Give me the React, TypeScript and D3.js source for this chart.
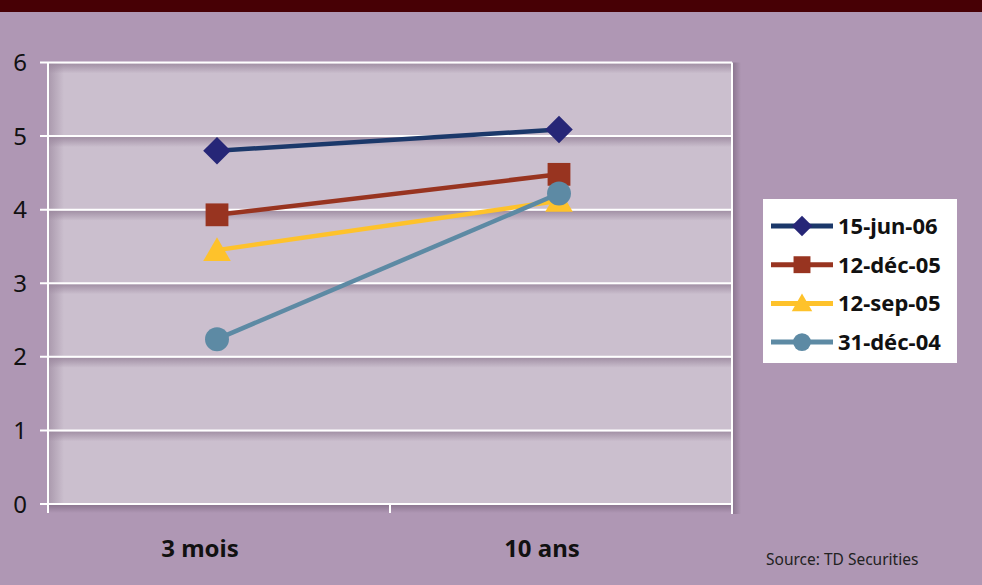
import React from "react";
import * as d3 from "d3";

const categories = ["3 mois", "10 ans"];
const seriesNames = ["15-jun-06", "12-déc-05", "12-sep-05", "31-déc-04"];
const s15jun06 = [4.8, 5.09];
const s12dec05 = [3.93, 4.48];
const s12sep05 = [3.45, 4.12];
const s31dec04 = [2.24, 4.22];
const yTicks = [0, 1, 2, 3, 4, 5, 6];
const sourceText = "Source: TD Securities";

const lineColors = ["#1B386A", "#983420", "#FEC22B", "#5D8AA4"];
const markerColors = ["#262677", "#983420", "#FEC22B", "#5D8AA4"];
const markerTypes = [d3.symbolSquare, d3.symbolSquare, d3.symbolTriangle, d3.symbolCircle];
const markerSizes = [380, 520, 330, 450];

const W = 982, H = 585;
const left = 48, right = 732, top = 62.5, bottom = 504;
const FONT = "'Noto Sans', 'Open Sans', sans-serif";

export default function App() {
  const allSeries = [s15jun06, s12dec05, s12sep05, s31dec04];
  const x = d3.scaleBand<string>().domain(categories).range([left, right]);
  const y = d3.scaleLinear().domain([0, 6]).range([bottom, top]);
  const cx = (c: string) => (x(c) as number) + x.bandwidth() / 2 - 2;
  const line = d3.line<number>().x((_, i) => cx(categories[i])).y((v) => y(v));
  const sym = (i: number, scale = 1) => d3.symbol().type(markerTypes[i]).size(markerSizes[i] * scale)() as string;
  const rot = (i: number) => (i === 0 ? " rotate(45)" : "");

  const legendX = 763, legendY = 199, legendW = 194, legendH = 164;
  const legendRowY = (i: number) => 226 + i * 38.7;

  return (
    <svg width={W} height={H} style={{ position: "absolute", left: 0, top: 0, display: "block" }}>
      <defs>
        <linearGradient id="gshadow" x1="0" y1="0" x2="0" y2="1">
          <stop offset="0" stopColor="#9a879d" stopOpacity="0.85" />
          <stop offset="1" stopColor="#9a879d" stopOpacity="0" />
        </linearGradient>
        <linearGradient id="lshadow" x1="0" y1="0" x2="1" y2="0">
          <stop offset="0" stopColor="#9a879d" stopOpacity="0.7" />
          <stop offset="1" stopColor="#9a879d" stopOpacity="0" />
        </linearGradient>
        <linearGradient id="rshadow" x1="0" y1="0" x2="1" y2="0">
          <stop offset="0" stopColor="#7f6a83" stopOpacity="0.8" />
          <stop offset="1" stopColor="#7f6a83" stopOpacity="0" />
        </linearGradient>
        <linearGradient id="bshadow" x1="0" y1="0" x2="0" y2="1">
          <stop offset="0" stopColor="#7f6a83" stopOpacity="0.8" />
          <stop offset="1" stopColor="#7f6a83" stopOpacity="0" />
        </linearGradient>
      </defs>
      <rect x={0} y={0} width={W} height={H} fill="#AF97B4" />
      <rect x={0} y={0} width={W} height={12} fill="#470005" />

      {/* plot area */}
      <rect x={right} y={top} width={9} height={bottom - top + 10} fill="url(#rshadow)" />
      <rect x={left} y={bottom} width={right - left} height={9} fill="url(#bshadow)" />
      <rect x={left} y={top} width={right - left} height={bottom - top} fill="#CBBFCE" />
      <rect x={left} y={top} width={16} height={bottom - top} fill="url(#lshadow)" />
      {yTicks.slice(1).map((t) => (
        <rect key={"s" + t} x={left} y={y(t) + 1} width={right - left} height={10} fill="url(#gshadow)" />
      ))}
      {yTicks.map((t) => (
        <line key={"g" + t} x1={left - 8} x2={right} y1={y(t)} y2={y(t)} stroke="#fff" strokeWidth={2} />
      ))}
      <line x1={left} x2={left} y1={top} y2={bottom + 9} stroke="#fff" strokeWidth={2} />
      <line x1={right} x2={right} y1={top} y2={bottom + 10} stroke="#fff" strokeWidth={2} />
      {[left, (x(categories[1]) as number), right].map((xx, i) => (
        <line key={"xt" + i} x1={xx} x2={xx} y1={bottom} y2={bottom + 9} stroke="#fff" strokeWidth={2} />
      ))}

      {yTicks.map((t) => (
        <text key={"yl" + t} x={20} y={y(t)} dy="0.36em" textAnchor="middle" fontFamily={FONT} fontSize={24} fill="#111">
          {t}
        </text>
      ))}
      {categories.map((c) => (
        <text key={c} x={cx(c) - 17} y={557} textAnchor="middle" fontFamily={FONT} fontWeight="bold" fontSize={24} fill="#111">
          {c}
        </text>
      ))}

      {allSeries.map((s, i) => (
        <path key={"l" + i} d={line(s) as string} fill="none" stroke={lineColors[i]} strokeWidth={4.5} />
      ))}
      {allSeries.map((s, i) =>
        s.map((v, j) => (
          <path
            key={"m" + i + "-" + j}
            d={sym(i)}
            transform={`translate(${cx(categories[j])},${y(v) + (i === 2 ? 3 : 0)})${rot(i)}`}
            fill={markerColors[i]}
          />
        ))
      )}

      {/* legend */}
      <rect x={legendX} y={legendY} width={legendW} height={legendH} fill="#fff" />
      {seriesNames.map((n, i) => (
        <g key={n}>
          <line x1={771} x2={833} y1={legendRowY(i)} y2={legendRowY(i)} stroke={lineColors[i]} strokeWidth={5} />
          <path
            d={sym(i, 0.55)}
            transform={`translate(802,${legendRowY(i) + (i === 2 ? 2 : 0)})${rot(i)}`}
            fill={markerColors[i]}
          />
          <text x={838} y={legendRowY(i)} dy="0.36em" fontFamily={FONT} fontWeight="bold" fontSize={22} fill="#111">
            {n}
          </text>
        </g>
      ))}

      <text x={766} y={565} fontFamily={FONT} fontSize={15.5} fill="#222">
        {sourceText}
      </text>
    </svg>
  );
}
